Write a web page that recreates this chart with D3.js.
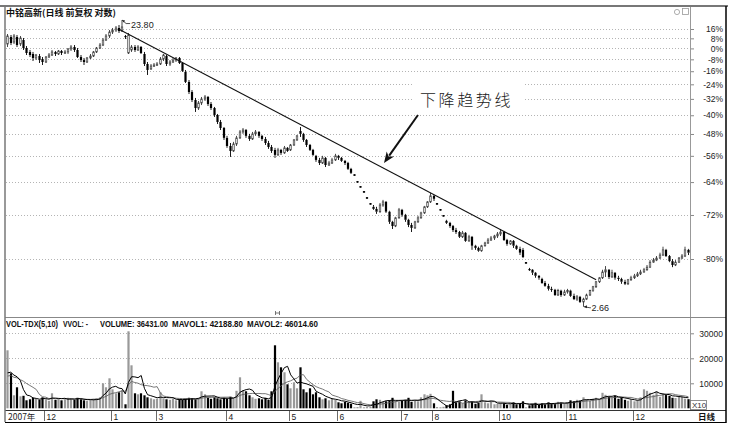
<!DOCTYPE html>
<html><head><meta charset="utf-8">
<script src="https://cdn.jsdelivr.net/npm/d3@7"></script>
<style>body{margin:0;background:#fff;}svg{display:block}</style>
</head><body>
<svg id="c" width="734" height="426"></svg>
<script>
// ---- data (prices in yuan, volume in axis units, i.e. hands / 10) ----
const open = [
19.81,20.91,20.12,20.91,19.81,20.43,19.22,18.65,18.36,17.81,
18.08,17.67,17.27,17.94,18.22,18.65,18.36,18.79,18.50,18.65,
19.08,19.37,18.93,17.94,17.53,17.27,17.81,18.08,18.65,19.22,
19.66,20.43,21.07,21.72,22.05,22.40,21.89,21.07,18.50,18.93,
19.37,18.93,19.37,18.36,17.01,16.38,16.75,16.88,17.01,17.67,
18.08,17.01,17.27,17.53,17.81,17.14,16.01,14.83,13.73,12.92,
12.15,12.63,13.02,13.22,12.53,12.15,11.52,10.92,10.43,9.67,
9.09,8.75,9.23,9.67,10.12,10.27,9.82,9.59,9.97,10.12,
9.82,9.59,9.30,9.02,8.82,8.49,8.82,8.62,8.96,8.82,
9.16,9.52,10.19,9.97,9.52,9.16,8.82,8.43,8.17,7.98,
8.30,7.86,7.98,8.17,8.43,8.30,8.11,7.98,7.63,7.28,
6.91,6.65,6.40,6.11,5.84,5.71,5.62,5.50,5.79,5.93,
5.50,5.09,4.93,5.25,5.58,5.37,5.17,4.97,4.86,5.09,
5.25,5.45,5.71,5.93,6.21,5.84,5.58,5.33,5.13,5.05,
4.93,4.78,4.71,4.54,4.68,4.40,4.54,4.24,4.17,4.08,
4.24,4.33,4.43,4.50,4.57,4.64,4.71,4.43,4.30,4.40,
4.24,4.14,4.11,3.72,3.55,3.53,3.45,3.37,3.29,3.19,
3.12,3.05,3.03,2.91,3.01,2.91,2.98,3.01,2.89,2.82,
2.87,2.76,2.82,2.91,3.01,3.10,3.22,3.32,3.47,3.53,
3.34,3.45,3.32,3.29,3.22,3.17,3.27,3.32,3.37,3.42,
3.47,3.53,3.60,3.74,3.80,3.86,3.95,4.11,3.92,3.77,
3.66,3.74,3.86,3.92,4.11];
const high = [
21.39,21.23,21.39,21.23,21.07,20.75,19.51,18.93,18.65,18.36,
18.36,17.94,18.08,18.50,18.93,18.79,18.93,18.93,18.93,19.22,
19.66,19.66,19.22,18.22,17.81,17.94,18.36,18.79,19.37,19.97,
20.75,21.39,22.05,22.40,22.74,22.91,23.80,21.23,21.56,19.66,
19.66,19.66,19.51,18.65,17.27,17.01,17.14,17.27,17.94,18.36,
18.22,17.53,17.81,17.94,17.94,17.27,16.25,15.05,13.94,13.12,
12.82,13.22,13.42,13.32,12.72,12.25,11.61,11.09,10.51,9.82,
9.30,9.38,9.82,10.27,10.43,10.35,9.97,10.12,10.27,10.19,
9.89,9.74,9.45,9.16,8.96,8.96,8.89,9.09,9.02,9.23,
9.59,9.89,10.51,10.05,9.59,9.23,8.89,8.49,8.30,8.43,
8.36,8.11,8.30,8.56,8.49,8.36,8.17,8.05,7.69,7.28,
6.91,6.65,6.40,6.11,5.84,5.79,5.71,5.88,6.02,5.97,
5.54,5.13,5.29,5.66,5.62,5.41,5.21,5.05,5.13,5.33,
5.50,5.75,5.97,6.35,6.25,5.84,5.58,5.33,5.17,5.09,
4.97,4.86,4.75,4.75,4.71,4.61,4.57,4.27,4.21,4.27,
4.37,4.50,4.57,4.61,4.71,4.82,4.75,4.47,4.43,4.43,
4.27,4.21,4.17,3.72,3.58,3.55,3.47,3.39,3.32,3.24,
3.17,3.10,3.05,3.05,3.03,3.03,3.05,3.03,2.94,2.91,
2.89,2.85,2.94,3.03,3.12,3.24,3.34,3.53,3.63,3.55,
3.53,3.47,3.37,3.32,3.27,3.29,3.37,3.42,3.47,3.53,
3.58,3.66,3.80,3.86,3.92,4.02,4.21,4.14,3.95,3.83,
3.80,3.89,3.98,4.21,4.14];
const low = [
19.37,19.66,19.81,19.37,19.51,18.93,18.22,17.94,17.40,17.53,
17.14,16.88,17.14,17.81,18.08,18.08,18.22,18.22,18.36,18.36,
18.79,18.65,17.81,17.27,16.88,17.14,17.67,17.94,18.50,19.08,
19.51,20.28,20.75,21.39,21.72,21.56,21.72,20.59,18.36,18.65,
18.65,18.79,18.36,16.75,15.64,16.25,16.63,16.75,16.88,17.40,
16.75,16.75,17.14,17.27,17.01,16.01,14.71,13.52,12.72,11.79,
11.97,12.43,12.82,12.34,11.97,11.35,10.75,10.27,9.52,8.96,
8.36,8.69,9.09,9.59,9.97,9.67,9.45,9.52,9.82,9.67,
9.45,9.16,8.89,8.62,8.30,8.43,8.49,8.56,8.69,8.75,
9.09,9.45,9.74,9.38,9.02,8.75,8.43,8.05,7.86,7.92,
7.74,7.80,7.92,8.11,8.17,8.05,7.86,7.57,7.34,7.28,
6.91,6.65,6.40,6.11,5.84,5.58,5.41,5.45,5.71,5.45,
5.01,4.82,4.89,5.21,5.29,5.09,4.89,4.71,4.82,5.05,
5.21,5.41,5.66,5.88,5.97,5.84,5.58,5.33,5.01,4.86,
4.71,4.64,4.50,4.50,4.37,4.37,4.11,4.11,4.05,4.05,
4.21,4.30,4.40,4.43,4.50,4.57,4.40,4.24,4.27,4.17,
4.11,3.95,3.86,3.72,3.50,3.39,3.32,3.27,3.17,3.10,
3.01,2.98,2.89,2.89,2.87,2.89,2.94,2.87,2.80,2.78,
2.74,2.66,2.80,2.89,2.98,3.07,3.19,3.29,3.34,3.29,
3.32,3.27,3.24,3.17,3.14,3.14,3.24,3.29,3.34,3.39,
3.45,3.50,3.58,3.72,3.77,3.83,3.92,3.89,3.74,3.60,
3.63,3.72,3.83,3.89,3.95];
const close = [
21.07,19.97,21.07,19.66,20.75,19.22,18.50,18.22,17.81,18.22,
17.53,17.27,17.94,18.22,18.65,18.36,18.79,18.50,18.65,19.08,
19.37,18.93,17.94,17.53,17.27,17.81,18.08,18.65,19.22,19.66,
20.43,21.07,21.72,22.05,22.40,21.89,22.57,20.91,21.23,19.37,
18.93,19.37,18.50,17.01,16.25,16.75,16.88,17.01,17.67,18.22,
17.01,17.27,17.53,17.81,17.14,16.13,14.83,13.73,12.92,12.15,
12.63,13.02,13.22,12.53,12.15,11.52,10.92,10.43,9.67,9.09,
8.75,9.23,9.67,10.12,10.27,9.82,9.59,9.97,10.12,9.82,
9.59,9.30,9.02,8.75,8.49,8.82,8.62,8.96,8.75,9.16,
9.52,9.82,9.97,9.52,9.16,8.82,8.49,8.17,7.98,8.30,
7.86,7.98,8.17,8.43,8.30,8.11,7.98,7.63,7.40,7.28,
6.91,6.65,6.40,6.11,5.84,5.62,5.50,5.79,5.93,5.50,
5.09,4.93,5.25,5.58,5.37,5.17,4.97,4.86,5.09,5.25,
5.45,5.71,5.93,6.21,6.07,5.84,5.58,5.33,5.05,4.93,
4.78,4.71,4.54,4.68,4.40,4.54,4.24,4.17,4.08,4.24,
4.33,4.43,4.50,4.57,4.64,4.71,4.43,4.30,4.40,4.24,
4.14,4.02,3.89,3.72,3.53,3.45,3.37,3.32,3.19,3.12,
3.05,3.03,2.91,3.01,2.91,2.98,3.01,2.89,2.82,2.87,
2.76,2.82,2.91,3.01,3.10,3.22,3.32,3.47,3.53,3.34,
3.45,3.32,3.29,3.22,3.17,3.27,3.32,3.37,3.42,3.47,
3.53,3.60,3.74,3.80,3.86,3.95,4.11,3.92,3.77,3.66,
3.74,3.86,3.92,4.11,4.02];
const volume = [
23200,14000,5200,8400,4800,5000,3200,3600,4200,3800,
3400,4400,3600,3000,6000,3400,3800,3200,3600,4200,
3800,3400,4200,3600,3200,3000,3400,3800,4000,4400,
10000,8400,12000,7600,6000,6400,7200,1600,30800,17200,
6000,5600,6000,5200,4400,4000,3600,3800,6400,4000,
3600,3400,3800,3200,3600,3400,3800,4200,4000,3600,
4200,6800,5600,4200,3800,4400,4000,3600,4200,3800,
4600,4000,7000,12400,7200,6800,5200,4400,3800,4000,
3600,4200,3400,6800,25200,18400,16400,14400,9600,8000,
10400,8000,16400,7600,6400,8000,5600,6400,4400,3600,
4000,3200,4000,3400,2400,2000,2600,2200,1800,400,
500,3000,400,500,600,2800,3600,3400,2600,2800,
3200,4200,3000,2600,3000,3400,4200,2600,3000,2800,
4400,5600,5200,5800,2000,500,400,600,1200,1600,
7000,2400,2800,2000,3200,2400,2600,1800,2200,5600,
2400,2000,2600,1600,1800,2200,2000,1400,1800,2400,
1600,2000,2800,400,1200,1800,2200,1400,2000,1600,
2400,2000,1800,2600,2200,1800,2400,3200,2800,3400,
3000,4400,3600,3000,3800,4200,3600,6200,5400,4600,
4200,5000,3800,4400,3400,3000,3600,2800,3200,4400,
7600,7000,6200,5400,6800,4600,5800,5300,5000,4220,
4100,4900,4600,3851,3643.1];
// volumes of the 9 sessions before the window (estimated from the MA lines at the left edge)
const preVolume = [11800,12400,10600,12000,11400,12600,11000,11800,12200];
const monthLabels = ["2007年","12","1","3","4","5","6","7","8","10","11","12"];
const monthIndex  = [0,12,33,47,69,89,104,124,134,155,176,197];
const pctTicks = [16,8,0,-8,-16,-24,-32,-40,-48,-56,-64,-72,-80];
const volTicks = [10000,20000,30000];
const basePrice = 19.16;
const trendIndex = [35,185];
const trendPrice = [22.2,3.27];
const title = "中铭高新(日线 前复权 对数)";
const volHeader = [["VOL-TDX(5,10)",6,52],["VVOL: -",63,25],["VOLUME: 36431.00",100,68],["MAVOL1: 42188.80",172,71],["MAVOL2: 46014.60",247,71]];

// ---- drawing ----
const svg = d3.select('#c');
const N = close.length;
const L = 6, R = 690;
const x = d3.scaleBand().domain(d3.range(N)).range([L, R]);
const xc = i => x(i) + x.bandwidth() / 2;
const y = d3.scaleLog().domain([basePrice * 0.2, basePrice * 1.16]).range([259, 29]);
const yv = d3.scaleLinear().domain([0, 30000]).range([408.3, 333.3]);
const sans = "'Liberation Sans', Arial, sans-serif";
const cjk = "'Noto Sans CJK SC', sans-serif";

svg.append('rect').attr('width', 734).attr('height', 426).attr('fill', '#fff');

// price grid + right axis
const gridP = svg.append('g');
pctTicks.forEach(p => {
  const yy = Math.round(y(basePrice * (1 + p / 100))) + 0.5;
  gridP.append('line').attr('x1', L).attr('x2', R).attr('y1', yy).attr('y2', yy)
    .attr('stroke', '#b4b4b4').attr('stroke-width', 1).attr('stroke-dasharray', '1,2');
});
const axP = svg.append('g').attr('transform', `translate(${R},0)`)
  .call(d3.axisRight(y).tickValues(pctTicks.map(p => basePrice * (1 + p / 100)))
    .tickFormat((d, i) => pctTicks[i] + '%').tickSize(4));
axP.select('.domain').remove();
axP.selectAll('line').attr('stroke', '#888');
axP.selectAll('text').attr('x', 33).attr('text-anchor', 'end')
  .style('font-family', sans).style('font-size', '8.5px').attr('fill', '#222');

// volume grid + axis
volTicks.forEach(v => {
  const yy = Math.round(yv(v)) + 0.5;
  svg.append('line').attr('x1', L).attr('x2', R).attr('y1', yy).attr('y2', yy)
    .attr('stroke', '#b4b4b4').attr('stroke-dasharray', '1,2');
});
const axV = svg.append('g').attr('transform', `translate(${R},0)`)
  .call(d3.axisRight(yv).tickValues(volTicks).tickFormat(d3.format('d')).tickSize(4));
axV.select('.domain').remove();
axV.selectAll('line').attr('stroke', '#888');
axV.selectAll('text').attr('x', 33).attr('text-anchor', 'end')
  .style('font-family', sans).style('font-size', '8.5px').attr('fill', '#222');

// annotation background box (hides grid)
svg.append('rect').attr('x', 413).attr('y', 77).attr('width', 110).attr('height', 31).attr('fill', '#fff');

// candles
const gK = svg.append('g');
const bw = 2.2;
d3.range(N).forEach(i => {
  const cx = Math.round(xc(i) * 2) / 2;
  const yo = y(open[i]), yc = y(close[i]), yh = y(high[i]), yl = y(low[i]);
  const top = Math.min(yo, yc), bot = Math.max(yo, yc);
  const flat = open[i] === close[i];
  const up = close[i] > open[i];
  if (flat) {
    gK.append('line').attr('x1', cx).attr('x2', cx).attr('y1', yh - 0.6).attr('y2', yl + 0.6).attr('stroke', '#000');
    gK.append('rect').attr('x', cx - 1.1).attr('y', top - 0.8).attr('width', 2.2).attr('height', 1.6).attr('fill', '#000');
    return;
  }
  const col = up ? '#333' : '#000';
  gK.append('line').attr('x1', cx).attr('x2', cx).attr('y1', yh).attr('y2', top).attr('stroke', col).attr('stroke-width', 0.9);
  gK.append('line').attr('x1', cx).attr('x2', cx).attr('y1', bot).attr('y2', yl).attr('stroke', col).attr('stroke-width', 0.9);
  const h = Math.max(bot - top, 1.2);
  if (up) {
    gK.append('rect').attr('x', cx - bw / 2 + 0.35).attr('y', top).attr('width', bw - 0.7).attr('height', h)
      .attr('fill', '#fff').attr('stroke', '#333').attr('stroke-width', 0.7);
  } else {
    gK.append('rect').attr('x', cx - bw / 2).attr('y', top).attr('width', bw).attr('height', h).attr('fill', '#000');
  }
});

// trend line (log space straight line between two anchor points)
svg.append('line')
  .attr('x1', xc(trendIndex[0])).attr('y1', y(trendPrice[0]))
  .attr('x2', xc(trendIndex[1])).attr('y2', y(trendPrice[1]))
  .attr('stroke', '#111').attr('stroke-width', 1.1);

// high / low markers
const hiIdx = d3.maxIndex(high), loIdx = d3.minIndex(low);
const hx = xc(hiIdx), hy = y(high[hiIdx]);
svg.append('path').attr('d', `M${hx},${hy} l4,3.5 h4`).attr('fill', 'none').attr('stroke', '#222').attr('stroke-width', 0.8);
svg.append('path').attr('d', `M${hx},${hy} l3,0.5 l-1.5,2z`).attr('fill', '#222');
svg.append('text').attr('x', hx + 9).attr('y', hy + 8).text(high[hiIdx].toFixed(2))
  .style('font-family', sans).style('font-size', '9px').attr('fill', '#222');
const lx = xc(loIdx), ly = y(low[loIdx]);
svg.append('path').attr('d', `M${lx + 0.5},${ly} l6,1 h1`).attr('fill', 'none').attr('stroke', '#222').attr('stroke-width', 0.8);
svg.append('path').attr('d', `M${lx + 0.5},${ly} l3,-1.5 l0,3z`).attr('fill', '#222');
svg.append('text').attr('x', lx + 8).attr('y', ly + 4.5).text(low[loIdx].toFixed(2))
  .style('font-family', sans).style('font-size', '9px').attr('fill', '#222');

// annotation
svg.append('text').attr('x', 420).attr('y', 106).text('下降趋势线')
  .style('font-family', cjk).style('font-size', '16px').style('letter-spacing', '2.6px')
  .style('font-weight', 300).attr('fill', '#1a1a1a');
const tip = [384, 163], st = [418, 115];
{
  const dx = tip[0] - st[0], dy = tip[1] - st[1], len = Math.hypot(dx, dy);
  const ux = dx / len, uy = dy / len, px = -uy, py = ux;
  const hl = 11, hw = 4.5;
  const bx = tip[0] - ux * hl, by = tip[1] - uy * hl;
  svg.append('line').attr('x1', st[0]).attr('y1', st[1]).attr('x2', bx + ux * 2).attr('y2', by + uy * 2)
    .attr('stroke', '#111').attr('stroke-width', 2);
  svg.append('path').attr('d', `M${tip[0]},${tip[1]} L${bx + px * hw},${by + py * hw} L${bx + ux * 3},${by + uy * 3} L${bx - px * hw},${by - py * hw}Z`)
    .attr('fill', '#111');
}

// volume bars
const gV = svg.append('g');
d3.range(N).forEach(i => {
  const cx = Math.round(xc(i) * 2) / 2;
  const up = close[i] >= open[i];
  const y0 = yv(0), y1 = yv(volume[i]);
  gV.append('rect').attr('x', cx - 1.1).attr('y', y1).attr('width', 2.2).attr('height', Math.max(y0 - y1, 0.8))
    .attr('fill', up ? '#999' : '#000');
});
// moving averages of volume
const full = preVolume.concat(volume);
const P = preVolume.length;
const ma = k => d3.range(N).map(i => d3.mean(full.slice(Math.max(0, i + P - k + 1), i + P + 1)));
const lineV = d3.line().x((d, i) => xc(i)).y(d => yv(d));
svg.append('path').attr('d', lineV(ma(10))).attr('fill', 'none').attr('stroke', '#555').attr('stroke-width', 0.8);
svg.append('path').attr('d', lineV(ma(5))).attr('fill', 'none').attr('stroke', '#000').attr('stroke-width', 1);

// volume header
volHeader.forEach(([t, xx, w]) => {
  svg.append('text').attr('x', xx).attr('y', 326.5).text(t).attr('textLength', w).attr('lengthAdjust', 'spacingAndGlyphs')
    .style('font-family', sans).style('font-size', '8.5px').style('font-weight', 600).attr('fill', '#111');
});

// frame and separators
svg.append('line').attr('x1', R + 0.5).attr('x2', R + 0.5).attr('y1', 7).attr('y2', 410).attr('stroke', '#999');
svg.append('line').attr('x1', 5).attr('x2', 726).attr('y1', 317.5).attr('y2', 317.5).attr('stroke', '#888');
svg.append('line').attr('x1', 5).attr('x2', 726).attr('y1', 410.5).attr('y2', 410.5).attr('stroke', '#333');
svg.append('line').attr('x1', 0).attr('x2', 728).attr('y1', 6).attr('y2', 6).attr('stroke', '#777').attr('stroke-width', 2);
svg.append('line').attr('x1', 5).attr('x2', 5).attr('y1', 6).attr('y2', 422).attr('stroke', '#777').attr('stroke-width', 1.5);
svg.append('line').attr('x1', 726).attr('x2', 726).attr('y1', 6).attr('y2', 423).attr('stroke', '#000').attr('stroke-width', 1.5);
svg.append('line').attr('x1', 5).attr('x2', 726).attr('y1', 422.5).attr('y2', 422.5).attr('stroke', '#000');

// X10 box, 日线
svg.append('rect').attr('x', R + 0.5).attr('y', 400.5).attr('width', 16).attr('height', 9).attr('fill', '#fff').attr('stroke', '#777').attr('stroke-width', 0.8);
svg.append('text').attr('x', R + 2).attr('y', 408).text('X10').style('font-family', sans).style('font-size', '8px').attr('fill', '#333');
svg.append('text').attr('x', 698).attr('y', 420).text('日线').style('font-family', cjk).style('font-size', '8.5px').style('font-weight', 'bold').attr('fill', '#111');

// date axis
monthLabels.forEach((t, k) => {
  const xx = k === 0 ? 6 : Math.round(xc(monthIndex[k]) - 1.5) + 0.5;
  if (k > 0) svg.append('line').attr('x1', xx).attr('x2', xx).attr('y1', 411).attr('y2', 421).attr('stroke', '#444').attr('stroke-width', 0.8);
  svg.append('text').attr('x', xx + 2).attr('y', 420).text(t)
    .style('font-family', k === 0 ? cjk : sans).style('font-size', '8.5px').attr('fill', '#222');
});

// title & icons
svg.append('text').attr('x', 6).attr('y', 16).text(title).style('font-family', cjk).style('font-size', '9px').style('font-weight', 'bold').attr('fill', '#111');
svg.append('circle').attr('cx', 677).attr('cy', 12).attr('r', 2.6).attr('fill', 'none').attr('stroke', '#999').attr('stroke-width', 0.8);
svg.append('rect').attr('x', 682.5).attr('y', 8.5).attr('width', 6).attr('height', 6).attr('fill', 'none').attr('stroke', '#999').attr('stroke-width', 0.8);
// small cursor marker
svg.append('path').attr('d', 'M275.5,311 v4 M279.5,311 v4 M275.5,313 h4').attr('stroke', '#555').attr('stroke-width', 0.8);
</script>
</body></html>
